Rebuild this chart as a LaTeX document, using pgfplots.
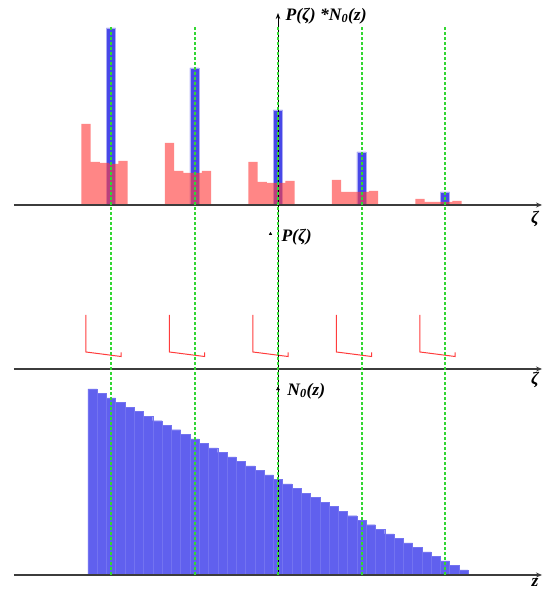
\documentclass[border=0pt]{standalone}
\usepackage{fontspec}
\setmainfont{Liberation Serif}
\usepackage{pgfplots}
\pgfplotsset{compat=1.18}
\usetikzlibrary{arrows.meta}

\definecolor{barblue}{RGB}{96,96,238}
\definecolor{spikeblue}{RGB}{72,72,232}
\definecolor{pinkred}{RGB}{255,60,60}
\definecolor{guidegreen}{RGB}{50,215,50}
\definecolor{axgray}{RGB}{60,60,60}

\pgfplotsset{
  panel/.style={scale only axis, width=553pt, xmin=-3.3293, xmax=3.2934,
    ymin=0, axis lines=none, clip=false, anchor=south west},
}
\tikzset{
  hline/.style={axgray, line width=1.5pt, -{Stealth[length=6pt,width=5pt]}},
  lbl/.style={font=\fontsize{17.5}{20}\selectfont\bfseries\itshape},
  guideline/.style={draw=guidegreen, line width=2pt, dash pattern=on 3pt off 2pt},
}

\begin{document}
\begin{tikzpicture}
\useasboundingbox (0,0) rectangle (553pt,593pt);

% top panel: P(zeta)*N0(z)
\begin{axis}[panel, at={(0pt,388pt)}, height=205pt, ymax=205]
\addplot[ybar, bar width=0.1111, bar shift=0pt, fill=spikeblue,
  draw=spikeblue!45!white, line width=0.7pt]
  coordinates {(-2,177) (-1,137) (0,95) (1,53) (2,13)};
\addplot[ybar, bar width=0.1111, bar shift=0pt, fill=pinkred,
  fill opacity=0.62, draw=none] coordinates {
  (-2.3000,81) (-2.1889,43) (-2.0778,42) (-1.9667,41) (-1.8556,44)
  (-1.3000,62) (-1.1889,34) (-1.0778,32) (-0.9667,32) (-0.8556,34)
  (-0.3000,43) (-0.1889,23) (-0.0778,22) (0.0333,22) (0.1444,24)
  (0.7000,25) (0.8111,13) (0.9222,13) (1.0333,13) (1.1444,14)
  (1.7000,6) (1.8111,3) (1.9222,3) (2.0333,3) (2.1444,4)
};
\addplot[hline] coordinates {(-3.162,0) (3.162,0)};
\node[lbl, anchor=west] at (axis cs:0.05,189) {P(ζ) *N\textsubscript{0}(z)};
\node[lbl] at (axis cs:3.078,-14) {ζ};
\end{axis}

% middle panel: P(zeta)
\begin{axis}[panel, at={(0pt,224pt)}, height=164pt, ymax=164]
\addplot[pinkred, line width=1pt] coordinates {(-2.30,54) (-2.30,17) (-1.88,12.5) (-1.88,16.5)};
\addplot[pinkred, line width=1pt] coordinates {(-1.30,54) (-1.30,17) (-0.88,12.5) (-0.88,16.5)};
\addplot[pinkred, line width=1pt] coordinates {(-0.30,54) (-0.30,17) (0.12,12.5) (0.12,16.5)};
\addplot[pinkred, line width=1pt] coordinates {(0.70,54) (0.70,17) (1.12,12.5) (1.12,16.5)};
\addplot[pinkred, line width=1pt] coordinates {(1.70,54) (1.70,17) (2.12,12.5) (2.12,16.5)};
\addplot[hline] coordinates {(-3.162,0) (3.162,0)};
\addplot[only marks, mark=triangle*, mark size=1.6pt, black] coordinates {(-0.09,135)};
\node[lbl, anchor=west] at (axis cs:0.0,132) {P(ζ)};
\node[lbl] at (axis cs:3.078,-11) {ζ};
\end{axis}

% bottom panel: N0(z)
\begin{axis}[panel, at={(0pt,18pt)}, height=206pt, ymax=206, unbounded coords=jump]
\addplot[ybar, bar width=0.1111, bar shift=0pt, fill=barblue,
  draw=barblue!88!white, line width=0.3pt] coordinates {
  (-2.2222,186) (-2.1111,181.5) (-2.0000,177.0) (-1.8889,172.4) (-1.7778,167.9)
  (-1.6667,163.4) (-1.5556,158.9) (-1.4444,154.3) (-1.3333,149.8) (-1.2222,145.3)
  (-1.1111,140.8) (-1.0000,136.2) (-0.8889,131.7) (-0.7778,127.2) (-0.6667,122.7)
  (-0.5556,118.1) (-0.4444,113.6) (-0.3333,109.1) (-0.2222,104.6) (-0.1111,100.0)
  (0.0000,95.5) (0.1111,91.0) (0.2222,86.5) (0.3333,81.9) (0.4444,77.4)
  (0.5556,72.9) (0.6667,68.4) (0.7778,63.8) (0.8889,59.3) (1.0000,54.8)
  (1.1111,50.3) (1.2222,45.7) (1.3333,41.2) (1.4444,36.7) (1.5556,32.2)
  (1.6667,27.6) (1.7778,23.1) (1.8889,18.6) (2.0000,14.1) (2.1111,9.5)
  (2.2222,5.0)
};
\addplot[hline] coordinates {(-3.162,0) (3.162,0)};
% vertical axis through all panels
\addplot[black, line width=1pt, -{Stealth[length=6pt,width=4.5pt]}] coordinates {(0,0) (0,562)};
\addplot[only marks, mark=triangle*, mark size=1.8pt, black] coordinates {(0,186)};
% guide lines
\addplot[guideline] coordinates {
  (-2,0) (-2,548) (-2,nan)
  (-1,0) (-1,548) (-1,nan)
  (0,0) (0,548) (0,nan)
  (1,0) (1,548) (1,nan)
  (2,0) (2,548)
};
\node[lbl, anchor=west] at (axis cs:0.07,184) {N\textsubscript{0}(z)};
\node[lbl] at (axis cs:3.078,-7) {z};
\end{axis}
\end{tikzpicture}
\end{document}
